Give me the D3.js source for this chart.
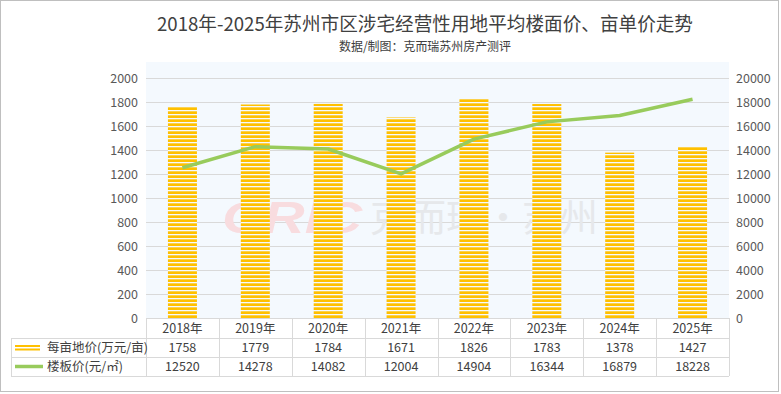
<!DOCTYPE html>
<html><head><meta charset="utf-8">
<script src="https://cdn.jsdelivr.net/npm/d3@7/dist/d3.min.js"></script>
<style>
html,body{margin:0;padding:0;background:#fff;}
svg{display:block;font-family:"Noto Sans CJK SC","Noto Sans",sans-serif;}
</style></head>
<body><svg id="c" width="781" height="394"></svg>
<script>
const categories = ["2018年","2019年","2020年","2021年","2022年","2023年","2024年","2025年"];
const muPrice = [1758,1779,1784,1671,1826,1783,1378,1427];
const floorPrice = [12520,14278,14082,12004,14904,16344,16879,18228];
const leftTicks = [0,200,400,600,800,1000,1200,1400,1600,1800,2000];
const rightTicks = [0,2000,4000,6000,8000,10000,12000,14000,16000,18000,20000];
const seriesNames = ["每亩地价(万元/亩)","楼板价(元/㎡)"];
const title = "2018年-2025年苏州市区涉宅经营性用地平均楼面价、亩单价走势";
const subtitle = "数据/制图：克而瑞苏州房产测评";

const svg = d3.select("#c");
const W = 781, H = 394;
const x0 = 146, x1 = 729, yTop = 78, yBot = 318;
const tableLeft = 11;
const rowY = [318, 338, 357, 376];

// outer border
svg.append("rect").attr("x",0.5).attr("y",0.5).attr("width",W-3).attr("height",H-3)
  .attr("fill","#fff").attr("stroke","#BFBFBF");

// plot background
svg.append("rect").attr("x",x0).attr("y",62).attr("width",x1-x0).attr("height",yBot-62).attr("fill","#F4F9FE");

const x = d3.scaleBand().domain(categories).range([x0,x1]).paddingInner(0).paddingOuter(0);
const yL = d3.scaleLinear().domain([0,2000]).range([yBot,yTop]);
const yR = d3.scaleLinear().domain([0,20000]).range([yBot,yTop]);

// gridlines
svg.append("g").selectAll("line").data(leftTicks.slice(1)).join("line")
  .attr("x1",x0).attr("x2",x1).attr("y1",d=>Math.round(yL(d))+0.5).attr("y2",d=>Math.round(yL(d))+0.5)
  .attr("stroke","#D9D9D9").attr("stroke-width",1);

// watermark
const wm = svg.append("g");
wm.append("text").attr("x",222).attr("y",233).attr("font-family","Liberation Sans, Arial, sans-serif")
  .attr("font-size",44).attr("font-weight","bold").attr("font-style","italic")
  .attr("fill","#F8DCDF").attr("textLength",140).attr("lengthAdjust","spacingAndGlyphs").text("CRIC");
wm.append("text").attr("x",370).attr("y",231).attr("font-size",38)
  .attr("fill","#E6E8EB").attr("textLength",228).attr("lengthAdjust","spacingAndGlyphs").text("克而瑞·苏州");

// stripe pattern
const defs = svg.append("defs");
const pat = defs.append("pattern").attr("id","stripes").attr("patternUnits","userSpaceOnUse")
  .attr("width",8).attr("height",4).attr("x",0).attr("y",yBot);
pat.append("rect").attr("width",8).attr("height",4).attr("fill","#F4F9FE");
pat.append("rect").attr("y",1.3).attr("width",8).attr("height",2.7).attr("fill","#FFC000");

const bw = 29;
svg.append("g").selectAll("rect").data(muPrice).join("rect")
  .attr("x",(d,i)=>x(categories[i])+x.bandwidth()/2-bw/2)
  .attr("width",bw)
  .attr("y",d=>yL(d)).attr("height",d=>yBot-yL(d))
  .attr("fill","url(#stripes)");

// line
const line = d3.line().x((d,i)=>x(categories[i])+x.bandwidth()/2).y(d=>yR(d));
svg.append("path").datum(floorPrice).attr("d",line).attr("fill","none")
  .attr("stroke","#98CB5C").attr("stroke-width",3.5).attr("stroke-linejoin","round").attr("stroke-linecap","butt");

// axes
const fmt = d3.format("d");
const axL = d3.axisLeft(yL).tickValues(leftTicks).tickFormat(fmt).tickSize(0).tickPadding(0);
const gL = svg.append("g").attr("transform",`translate(138,0)`).call(axL);
gL.select(".domain").remove();
gL.selectAll("text").attr("font-size",12.5).attr("fill","#595959").attr("font-family","Noto Sans CJK SC, sans-serif");

const axR = d3.axisRight(yR).tickValues(rightTicks).tickFormat(fmt).tickSize(0).tickPadding(0);
const gR = svg.append("g").attr("transform",`translate(736,0)`).call(axR);
gR.select(".domain").remove();
gR.selectAll("text").attr("font-size",12.5).attr("fill","#595959").attr("font-family","Noto Sans CJK SC, sans-serif");

// table
const tb = svg.append("g");
const bc = "#D9D9D9";
tb.append("line").attr("x1",x0).attr("x2",x1).attr("y1",rowY[0]+0.5).attr("y2",rowY[0]+0.5).attr("stroke",bc);
[1,2,3].forEach(r=>{
  tb.append("line").attr("x1",tableLeft).attr("x2",x1).attr("y1",rowY[r]+0.5).attr("y2",rowY[r]+0.5).attr("stroke",bc);
});
tb.append("line").attr("x1",tableLeft+0.5).attr("x2",tableLeft+0.5).attr("y1",rowY[1]).attr("y2",rowY[3]).attr("stroke",bc);
categories.forEach((c,i)=>{
  const xx = Math.round(x(c))+0.5;
  tb.append("line").attr("x1",xx).attr("x2",xx).attr("y1",rowY[0]).attr("y2",rowY[3]).attr("stroke",bc);
});
tb.append("line").attr("x1",x1+0.5).attr("x2",x1+0.5).attr("y1",rowY[0]).attr("y2",rowY[3]).attr("stroke",bc);

const txtStyle = s=>s.attr("font-size",12.5).attr("fill","#404040").attr("text-anchor","middle");
tb.selectAll(".hdr").data(categories).join("text").attr("class","hdr")
  .attr("x",d=>x(d)+x.bandwidth()/2).attr("y",(rowY[0]+rowY[1])/2+4.5).text(d=>d).call(txtStyle);
tb.selectAll(".r1").data(muPrice).join("text").attr("class","r1")
  .attr("x",(d,i)=>x(categories[i])+x.bandwidth()/2).attr("y",(rowY[1]+rowY[2])/2+4.5).text(d=>d).call(txtStyle);
tb.selectAll(".r2").data(floorPrice).join("text").attr("class","r2")
  .attr("x",(d,i)=>x(categories[i])+x.bandwidth()/2).attr("y",(rowY[2]+rowY[3])/2+4.5).text(d=>d).call(txtStyle);

const ly1 = (rowY[1]+rowY[2])/2, ly2 = (rowY[2]+rowY[3])/2;
tb.append("line").attr("x1",15).attr("x2",40).attr("y1",ly1-1.5).attr("y2",ly1-1.5).attr("stroke","#FFC000").attr("stroke-width",2);
tb.append("line").attr("x1",15).attr("x2",40).attr("y1",ly1+2).attr("y2",ly1+2).attr("stroke","#FFC000").attr("stroke-width",2);
tb.append("line").attr("x1",15).attr("x2",43).attr("y1",ly2).attr("y2",ly2).attr("stroke","#98CB5C").attr("stroke-width",3.5);
tb.append("text").attr("x",47).attr("y",ly1+4.5).attr("font-size",12.5).attr("fill","#404040").text(seriesNames[0]);
tb.append("text").attr("x",47).attr("y",ly2+4.5).attr("font-size",12.5).attr("fill","#404040").text(seriesNames[1]);

svg.append("text").attr("x",157).attr("y",31).attr("font-size",19).attr("fill","#404040")
  .attr("textLength",536).attr("lengthAdjust","spacingAndGlyphs").text(title);
svg.append("text").attr("x",339).attr("y",51).attr("font-size",12.5).attr("fill","#404040")
  .attr("textLength",172).attr("lengthAdjust","spacingAndGlyphs").text(subtitle);
</script></body></html>
